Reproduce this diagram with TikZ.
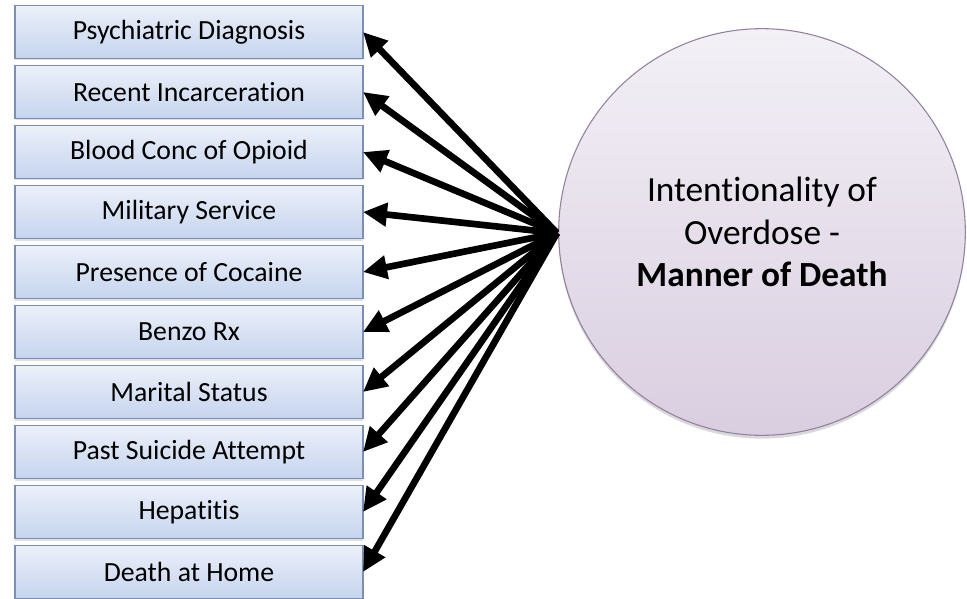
\documentclass[tikz,border=0pt]{standalone}
\usepackage{fontspec}
\setmainfont{Carlito}[Ligatures=CommonOff]
\usetikzlibrary{positioning,arrows.meta,shadows}

\definecolor{boxtop}{RGB}{236,240,249}
\definecolor{boxbottom}{RGB}{197,212,238}
\definecolor{boxline}{RGB}{124,143,178}
\definecolor{ringtop}{RGB}{243,240,246}
\definecolor{ringbottom}{RGB}{217,206,224}
\definecolor{ringline}{RGB}{146,128,158}

\begin{document}
\begin{tikzpicture}[x=0.75pt,y=-0.75pt,
  factor/.style={rectangle, draw=boxline, line width=1pt, top color=boxtop, bottom color=boxbottom,
    minimum width=261pt, minimum height=39.75pt, inner sep=0pt, outer sep=0pt,
    drop shadow={opacity=0.25, shadow xshift=0pt, shadow yshift=-1.5pt},
    font=\fontsize{20.8}{25}\selectfont},
  outcome/.style={circle, draw=ringline, line width=0.8pt, top color=ringtop, bottom color=ringbottom,
    minimum size=305pt, inner sep=0pt, align=center,
    drop shadow={opacity=0.3, shadow xshift=0pt, shadow yshift=-2.5pt},
    font=\fontsize{26.5}{31.9}\selectfont},
  fan/.style={line width=5pt, black, -{Triangle[length=18pt,width=17pt]}}]
 \useasboundingbox (0,0) rectangle (967,599);

 %Names
 \node (cause) [outcome] at (762,232) {Intentionality of\\Overdose -\\\textbf{Manner of Death}};

 \node (f1) [factor] at (189,32) {Psychiatric Diagnosis};
 \foreach \i/\ftext [count=\prev from 1] in {2/Recent Incarceration,3/Blood Conc of Opioid,4/Military Service,
   5/Presence of Cocaine,6/Benzo Rx,7/Marital Status,8/Past Suicide Attempt,9/Hepatitis,10/Death at Home}
 \node (f\i) [factor, below=5.25pt of f\prev] {\ftext};

 %Coordinates
 \coordinate (hub) at (557,233);

 %Arrows
 \foreach \i in {1,...,10}
 \draw[fan] (hub) -- (f\i.east);

\end{tikzpicture}
\end{document}
